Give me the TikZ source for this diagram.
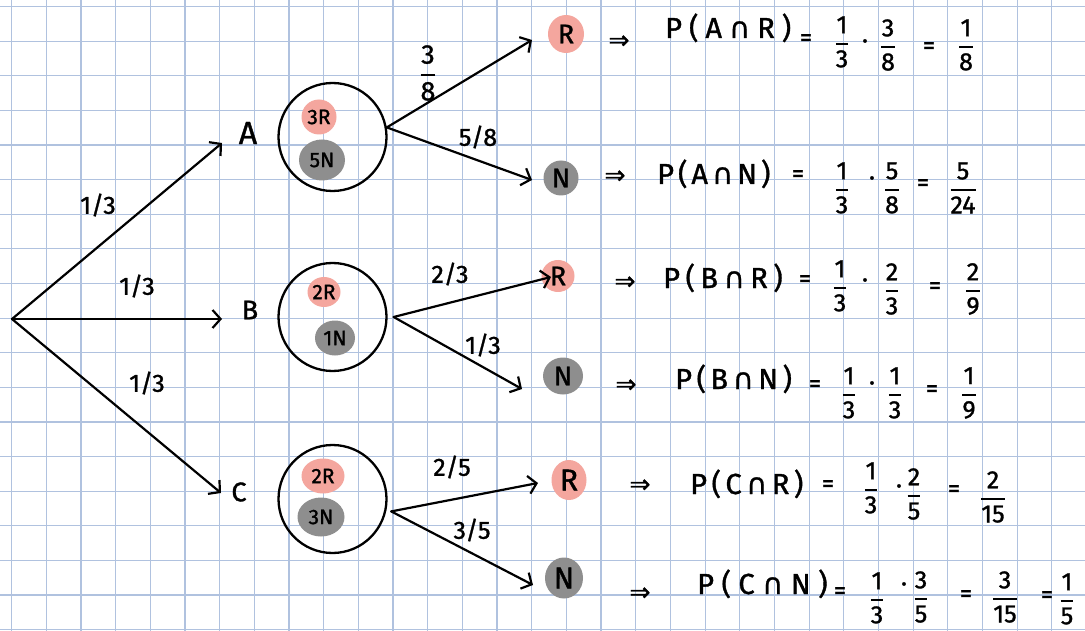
\RequirePackage{fix-cm}
\documentclass[tikz,border=0pt]{standalone}
\usepackage{amsmath}
\usepackage{fontspec}
\setmainfont{Fira Sans}[UprightFeatures={FakeBold=1.2}]
\newfontfamily\djv{DejaVu Sans}[FakeBold=0.8]
\usetikzlibrary{arrows.meta,shapes.geometric}
\definecolor{gridblue}{RGB}{176,194,223}
\definecolor{blobpink}{RGB}{244,166,158}
\definecolor{blobgrey}{RGB}{142,142,142}
\newcommand{\fr}[2]{$\displaystyle\genfrac{}{}{1.8pt}{0}{\text{#1}}{\text{#2}}$}
\newcommand{\impl}{{\djv ⇒}}
\newcommand{\Pexpr}[3]{P\hspace{#3}(\hspace{#3}#1\hspace{#3}{\djv ∩}\hspace{#3}#2\hspace{#3})}
\tikzset{
  gridline/.style={draw=gridblue, line width=1.2pt},
  edge/.style={draw, line width=2.2pt, line cap=round, -{Straight Barb[length=8pt,width=18pt]}},
  prob/.style={font=\fontsize{25}{29}\selectfont, inner sep=0pt},
  letter/.style={font=\fontsize{27}{31}\selectfont, inner sep=0pt},
  urn/.style={circle, draw, line width=2.3pt, minimum size=108pt, inner sep=0pt},
  pinkblob/.style={ellipse, fill=blobpink, inner sep=0pt, font=\fontsize{21}{24}\selectfont},
  greyblob/.style={ellipse, fill=blobgrey, inner sep=0pt, font=\fontsize{21}{24}\selectfont},
  termfont/.style={font=\fontsize{27}{30}\selectfont},
  eq/.style={font=\fontsize{29}{33}\selectfont, inner sep=0pt, anchor=base west},
  frac/.style={font=\fontsize{25}{28}\selectfont, inner sep=0pt},
  sym/.style={font=\fontsize{25}{28}\selectfont, inner sep=0pt},
}
\begin{document}
\begin{tikzpicture}[x=1pt,y=-1pt]
\useasboundingbox (0,0) rectangle (1085,631);
\fill[white] (0,0) rectangle (1085,631);
% grid
\foreach \k in {0,...,31} \draw[gridline] ({11.7+34.67*\k},0) -- ({11.7+34.67*\k},631);
\foreach \k in {0,...,18} \draw[gridline] (0,{6.7+34.6*\k}) -- (1085,{6.7+34.6*\k});

% first level
\coordinate (root) at (12,319);
\coordinate (tA) at (222,143);
\coordinate (tB) at (222,319);
\coordinate (tC) at (221,493);
\draw[edge] (root) -- (tA);
\draw[edge] (root) -- (tB);
\draw[edge] (root) -- (tC);
\node[prob] (lA) at (98,205) {1/3};
\node[prob] (lB) at (137,286) {1/3};
\node[prob] (lC) at (147,383) {1/3};
\node[letter, font=\fontsize{32}{36}\selectfont] (A) at (248,133) {A};
\node[letter] (B) at (250,310) {B};
\node[letter] (C) at (239,492) {C};

% urns
\node[urn] (uA) at (332.5,137) {};
\node[urn] (uB) at (332.5,317) {};
\node[urn] (uC) at (332.5,499) {};
\node[pinkblob, minimum width=35pt, minimum height=35pt] (uAr) at (319,117) {3R};
\node[greyblob, minimum width=46pt, minimum height=41pt] (uAn) at (322,160) {5N};
\node[pinkblob, minimum width=33pt, minimum height=30pt] (uBr) at (324,292) {2R};
\node[greyblob, minimum width=40pt, minimum height=35pt] (uBn) at (335,338) {1N};
\node[pinkblob, minimum width=43pt, minimum height=35pt] (uCr) at (323,476) {2R};
\node[greyblob, minimum width=47pt, minimum height=39pt] (uCn) at (321,517) {3N};

% terminal outcomes
\node[pinkblob, termfont, minimum width=36pt, minimum height=38pt] (AR) at (566,34) {R};
\node[greyblob, termfont, minimum width=35pt, minimum height=35pt] (AN) at (561,178) {N};
\node[pinkblob, termfont, minimum width=33pt, minimum height=32pt] (BR) at (558,276) {R};
\node[greyblob, termfont, minimum width=40pt, minimum height=37pt] (BN) at (563,376) {N};
\node[pinkblob, font=\fontsize{30}{33}\selectfont, minimum width=35pt, minimum height=40pt] (CR) at (569,480) {R};
\node[greyblob, font=\fontsize{30}{33}\selectfont, minimum width=38pt, minimum height=41pt] (CN) at (564,578) {N};

% second level, A
\coordinate (sA) at (uA.10);
\coordinate (tAR) at (532,40);
\coordinate (tAN) at (532,180);
\draw[edge] (sA) -- (tAR);
\draw[edge] (sA) -- (tAN);
\node[frac, font=\fontsize{27}{30}\selectfont] (lAR) at (428,73) {\fr{3}{8}};
\node[prob] (lAN) at (478,137) {5/8};

% second level, B
\coordinate (sB) at ([xshift=6pt]uB.east);
\coordinate (tBR) at (551,277);
\coordinate (tBN) at (522,389);
\draw[edge] (sB) -- (tBR);
\draw[edge] (sB) -- (tBN);
\node[prob] (lBR) at (450,274) {2/3};
\node[prob] (lBN) at (483,345) {1/3};

% second level, C
\coordinate (sC) at ([xshift=5pt]uC.-13);
\coordinate (tCR) at (538,483);
\coordinate (tCN) at (533,585);
\draw[edge] (sC) -- (tCR);
\draw[edge] (sC) -- (tCN);
\node[prob] (lCR) at (452,467) {2/5};
\node[prob] (lCN) at (472,530) {3/5};

% equations row 1
\node[sym] (e1i) at (619,42) {\impl};
\node[eq] (e1p) at (665,38) {\Pexpr{A}{R}{7pt}};
\node[sym] (e1a) at (806,40) {=};
\node[frac] (e1f) at (842,42) {\fr{1}{3}};
\node[sym] (e1d) at (865,44) {·};
\node[frac] (e1g) at (888,45) {\fr{3}{8}};
\node[sym] (e1b) at (929,48) {=};
\node[frac] (e1h) at (966,45) {\fr{1}{8}};

% row 2
\node[sym] (e2i) at (615,177) {\impl};
\node[eq] (e2p) at (657,184) {\Pexpr{A}{N}{4pt}};
\node[sym] (e2a) at (798,176) {=};
\node[frac] (e2f) at (842,188) {\fr{1}{3}};
\node[sym] (e2d) at (872,181) {·};
\node[frac] (e2g) at (892,188) {\fr{5}{8}};
\node[sym] (e2b) at (923,185) {=};
\node[frac] (e2h) at (963,188) {\fr{5}{24}};

% row 3
\node[sym] (e3i) at (625,283) {\impl};
\node[eq] (e3p) at (663,288) {\Pexpr{B}{R}{5.5pt}};
\node[sym] (e3a) at (805,281) {=};
\node[frac] (e3f) at (840,286) {\fr{1}{3}};
\node[sym] (e3d) at (865,283) {·};
\node[frac] (e3g) at (892,289) {\fr{2}{3}};
\node[sym] (e3b) at (935,288) {=};
\node[frac] (e3h) at (973,289) {\fr{2}{9}};

% row 4
\node[sym] (e4i) at (626,386) {\impl};
\node[eq] (e4p) at (675,389) {\Pexpr{B}{N}{4.5pt}};
\node[sym] (e4a) at (815,386) {=};
\node[frac] (e4f) at (849,393) {\fr{1}{3}};
\node[sym] (e4d) at (872,386) {·};
\node[frac] (e4g) at (895,393) {\fr{1}{3}};
\node[sym] (e4b) at (932,391) {=};
\node[frac] (e4h) at (969,393) {\fr{1}{9}};

% row 5
\node[sym] (e5i) at (640,486) {\impl};
\node[eq] (e5p) at (690,494) {\Pexpr{C}{R}{4.5pt}};
\node[sym] (e5a) at (828,486) {=};
\node[frac] (e5f) at (871,488) {\fr{1}{3}};
\node[sym] (e5d) at (899,489) {·};
\node[frac] (e5g) at (914,494) {\fr{2}{5}};
\node[sym] (e5b) at (954,491) {=};
\node[frac] (e5h) at (993,497) {\fr{2}{15}};

% row 6
\node[sym] (e6i) at (640,594) {\impl};
\node[eq] (e6p) at (697,594) {\Pexpr{C}{N}{7.5pt}};
\node[sym] (e6a) at (840,593) {=};
\node[frac] (e6f) at (877,598) {\fr{1}{3}};
\node[sym] (e6d) at (904,587) {·};
\node[frac] (e6g) at (921,597) {\fr{3}{5}};
\node[sym] (e6b) at (966,596) {=};
\node[frac] (e6h) at (1005,597) {\fr{3}{15}};
\node[sym] (e6c) at (1047,597) {=};
\node[frac] (e6k) at (1067,599) {\fr{1}{5}};
\end{tikzpicture}
\end{document}
